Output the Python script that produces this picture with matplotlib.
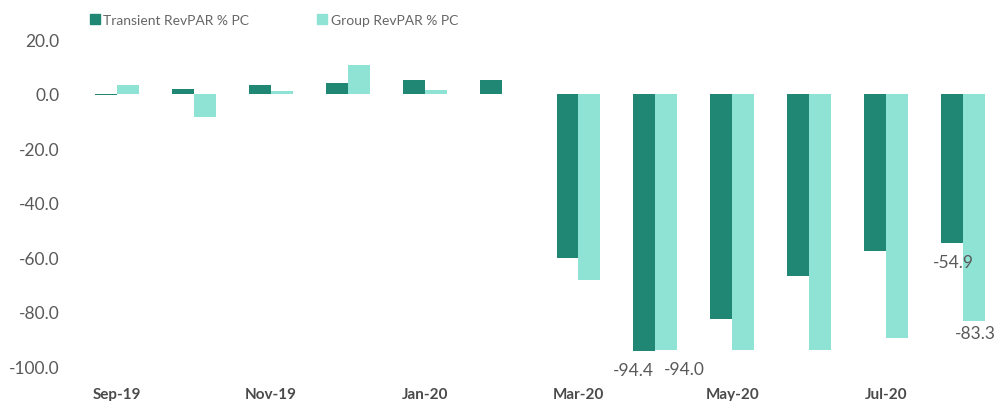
import numpy as np
import matplotlib
matplotlib.use("Agg")
import matplotlib.pyplot as plt
from matplotlib.patches import Patch

plt.rcParams['font.family'] = ['Lato', 'DejaVu Sans']

months = ['Sep-19', 'Oct-19', 'Nov-19', 'Dec-19', 'Jan-20', 'Feb-20',
          'Mar-20', 'Apr-20', 'May-20', 'Jun-20', 'Jul-20', 'Aug-20']
transient = [-0.4, 1.5, 3.3, 4.0, 4.8, 4.8, -60.2, -94.4, -82.8, -67.0, -57.9, -54.9]
group = [3.1, -8.6, 0.9, 10.5, 1.4, -0.3, -68.4, -94.0, -94.1, -94.0, -89.6, -83.3]

# value labels: (series, month index, offset in pixels)
labelled = [('t', 7, (-11, -19)), ('g', 7, (18, -19)),
            ('t', 11, (1, -19)), ('g', 11, (1, -12))]

dark = '#1F8773'
light = '#8EE3D4'
grey = '#595959'

fig = plt.figure(figsize=(9.96, 4.02), dpi=100)
ax = fig.add_axes([0.079, 0.087, 0.921, 0.8134])

x = np.arange(len(months))
w = 0.285
ax.bar(x - w / 2, transient, w, color=dark)
ax.bar(x + w / 2, group, w, color=light)

for series, i, off in labelled:
    if series == 't':
        xv, yv = x[i] - w / 2, transient[i]
    else:
        xv, yv = x[i] + w / 2, group[i]
    ax.annotate(f'{yv:.1f}', (xv, yv), xytext=off, textcoords='offset pixels',
                ha='center', va='center', fontsize=12.5, color=grey)

ax.set_xlim(-0.5, 11.43)
ax.set_ylim(-100, 20)
ax.set_yticks(np.arange(-100, 21, 20))
ax.set_yticklabels([f'{v:.1f}' for v in np.arange(-100, 21, 20)])
ax.set_xticks(x[::2])
ax.set_xticklabels(months[::2], fontweight='bold')
ax.tick_params(axis='y', length=0, labelsize=12.5, labelcolor=grey, pad=14)
ax.tick_params(axis='x', length=0, labelsize=11, labelcolor='#4a4a4a', pad=15)
for s in ax.spines.values():
    s.set_visible(False)

handles = [Patch(color=dark, label='Transient RevPAR % PC'),
           Patch(color=light, label='Group RevPAR % PC')]
fig.legend(handles=handles, loc='upper left', bbox_to_anchor=(0.078, 0.995),
           ncol=2, frameon=False, fontsize=10, labelcolor='#666666',
           handlelength=0.7, handleheight=0.7, handletextpad=0.25,
           columnspacing=4.9)

fig.savefig('out.png', dpi=100)
